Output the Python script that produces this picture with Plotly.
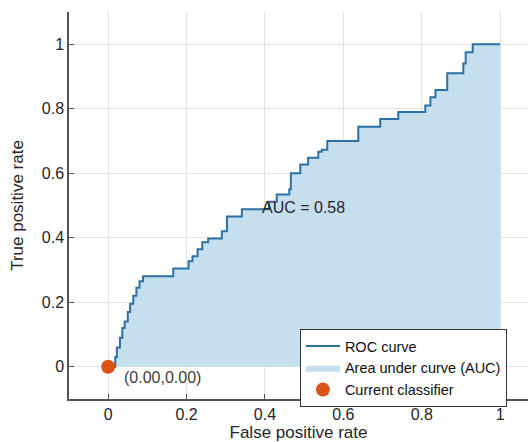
import plotly.graph_objects as go

# ROC curve points (staircase)
fpr = [0.010, 0.018, 0.022, 0.030, 0.036, 0.042, 0.050, 0.056, 0.064, 0.072, 0.080, 0.089,
       0.166, 0.205, 0.215, 0.228, 0.240, 0.255, 0.290, 0.303, 0.341, 0.410, 0.430, 0.462,
       0.466, 0.490, 0.510, 0.536, 0.545, 0.559, 0.638, 0.694, 0.740, 0.809, 0.822, 0.835,
       0.865, 0.906, 0.912, 0.930, 1.000]
tpr = [0.000, 0.030, 0.060, 0.090, 0.120, 0.140, 0.170, 0.195, 0.220, 0.245, 0.265, 0.281,
       0.305, 0.327, 0.343, 0.364, 0.386, 0.398, 0.420, 0.466, 0.488, 0.512, 0.534, 0.550,
       0.600, 0.627, 0.648, 0.667, 0.673, 0.700, 0.744, 0.768, 0.790, 0.810, 0.836, 0.858,
       0.910, 0.940, 0.975, 1.000, 1.000]

classifier_x = [0.0]
classifier_y = [0.0]
auc_value = 0.58
tick_vals = [0, 0.2, 0.4, 0.6, 0.8, 1]
tick_text = ["0", "0.2", "0.4", "0.6", "0.8", "1"]

FONT = "Liberation Sans, Arial, sans-serif"

fig = go.Figure()

fig.add_trace(go.Scatter(
    x=fpr, y=tpr, mode="lines", line=dict(shape="hv", width=0, color="rgba(0,0,0,0)"),
    fill="tozeroy", fillcolor="#c5dfef", name="Area under curve (AUC)", showlegend=True,
    legendrank=2,
))
fig.add_trace(go.Scatter(
    x=fpr, y=tpr, mode="lines", line=dict(shape="hv", width=2, color="#2d70a3"),
    name="ROC curve", legendrank=1,
))
fig.add_trace(go.Scatter(
    x=classifier_x, y=classifier_y, mode="markers",
    marker=dict(size=14, color="#dc5318", line=dict(width=0)),
    name="Current classifier", legendrank=3, cliponaxis=False,
))

fig.add_annotation(x=fpr[20] + 0.047, y=tpr[20] + 0.006, text=f"AUC = {auc_value:.2f}",
                   showarrow=False, xanchor="left", yanchor="middle",
                   font=dict(family=FONT, size=16, color="#262626"))
fig.add_annotation(x=classifier_x[0] + 0.036, y=classifier_y[0] - 0.034,
                   text=f"({classifier_x[0]:.2f},{classifier_y[0]:.2f})",
                   showarrow=False, xanchor="left", yanchor="middle",
                   font=dict(family=FONT, size=16, color="#404040"))

axis_common = dict(
    tickvals=tick_vals, ticktext=tick_text, showgrid=True, gridcolor="#e3e3e3", gridwidth=1,
    zeroline=False, showline=True, linecolor="#555555", linewidth=1.5,
    ticks="inside", ticklen=5, tickcolor="#555555",
    tickfont=dict(family=FONT, size=16, color="#262626"),
)

fig.update_xaxes(range=[-0.1, 1.071], title=dict(text="False positive rate", standoff=3,
                 font=dict(family=FONT, size=17, color="#262626")), **axis_common)
fig.update_yaxes(range=[-0.1, 1.1], title=dict(text="True positive rate", standoff=14,
                 font=dict(family=FONT, size=17, color="#262626")), **axis_common)

fig.update_layout(
    width=528, height=442,
    margin=dict(l=69, r=0, t=12, b=43, autoexpand=False),
    plot_bgcolor="white", paper_bgcolor="white",
    font=dict(family=FONT, size=15, color="#262626"),
    legend=dict(x=0.503, y=0.181, xanchor="left", yanchor="top",
                bgcolor="white", bordercolor="#333333", borderwidth=1,
                font=dict(family=FONT, size=14.5, color="#111111"),
                tracegroupgap=0, itemwidth=34),
    showlegend=True,
)

fig.write_html("out.html", config={"displayModeBar": False},
               post_script="document.body.style.margin='0';document.body.style.overflow='hidden';")
